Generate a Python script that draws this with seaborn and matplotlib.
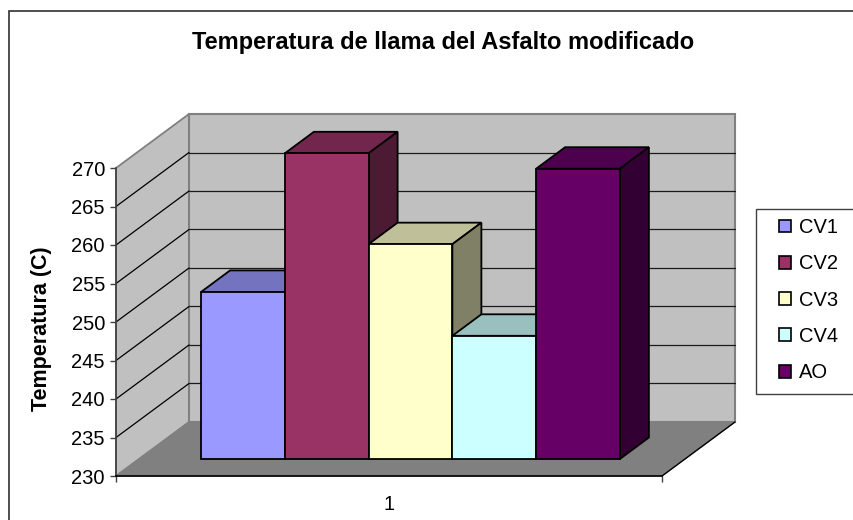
import matplotlib
matplotlib.use('Agg')
import matplotlib.pyplot as plt
from matplotlib.colors import to_rgb
from matplotlib.patches import Polygon, Rectangle
import pandas as pd
import seaborn as sns

'''
data
'''
series = ['CV1', 'CV2', 'CV3', 'CV4', 'AO']
temperatures = [251.7, 269.7, 257.9, 246.0, 267.7]
group = ['1', '1', '1', '1', '1']
bar_colors = ['#9999FF', '#993366', '#FFFFCC', '#CCFFFF', '#660066']
y_ticks = [230, 235, 240, 245, 250, 255, 260, 265, 270]

df = pd.DataFrame({'grupo': group, 'serie': series, 'temp': temperatures})

sns.set_theme(style='white')
plt.rcParams['font.family'] = ['Liberation Sans', 'DejaVu Sans']

W, H = 854, 520
fig = plt.figure(figsize=(W / 100, H / 100), dpi=100, facecolor='white')
ax = fig.add_axes([116 / W, (H - 476) / H, 546 / W, 308 / H])

'''
bars
'''
sns.barplot(data=df, x='grupo', y='temp', hue='serie', hue_order=series,
            palette=dict(zip(series, bar_colors)), saturation=1, width=0.767,
            gap=0, edgecolor='black', linewidth=1.3, ax=ax)

ymin, ymax = y_ticks[0], y_ticks[-1]
ax.set_xlim(-0.5, 0.5)
ax.set_ylim(ymin, ymax)
ax.patch.set_visible(False)

# oblique projection, the depth of the box in data units
depth_x = 73 / 546
depth_y = 54 / 308 * (ymax - ymin)
# where the bars stand on the floor and how deep they are
shift_x = 21.5 / 546
shift_y = 17 / 308 * (ymax - ymin)
bar_dx = 29 / 546
bar_dy = 21.5 / 308 * (ymax - ymin)


def shade(color, f):
    return tuple(c * f for c in to_rgb(color))


def poly(pts, face, edge, lw=1.0, z=1):
    ax.add_patch(Polygon(pts, closed=True, facecolor=face, edgecolor=edge,
                         linewidth=lw, zorder=z, clip_on=False))


'''
walls and floor
'''
x0, x1 = -0.5, 0.5
poly([(x0, ymin), (x0 + depth_x, ymin + depth_y), (x0 + depth_x, ymax + depth_y), (x0, ymax)],
     '#C0C0C0', '#808080', 1.3, 0.5)
poly([(x0 + depth_x, ymin + depth_y), (x1 + depth_x, ymin + depth_y),
      (x1 + depth_x, ymax + depth_y), (x0 + depth_x, ymax + depth_y)],
     '#C0C0C0', '#808080', 1.5, 0.5)
poly([(x0, ymin), (x0 + depth_x, ymin + depth_y), (x1 + depth_x, ymin + depth_y), (x1, ymin)],
     '#808080', '#808080', 0.8, 0.6)
ax.plot([x1, x1 + depth_x], [ymin, ymin + depth_y], color='black', lw=1, zorder=0.7, clip_on=False)

for t in y_ticks[1:-1]:
    ax.plot([x0, x0 + depth_x], [t, t + depth_y], color='black', lw=0.9, zorder=0.8, clip_on=False)
    ax.plot([x0 + depth_x, x1 + depth_x], [t + depth_y, t + depth_y], color='#1a1a1a', lw=0.9,
            zorder=0.8, clip_on=False)

'''
3d look of the bars, painted left to right
'''
bars = [p for p in ax.patches if isinstance(p, Rectangle) and p.get_width() > 0]
for i, (p, val, col) in enumerate(zip(bars, temperatures, bar_colors)):
    z = 3 + i
    p.set_x(p.get_x() + shift_x)
    p.set_y(ymin + shift_y)
    p.set_height(val - ymin)
    p.set_zorder(z + 0.5)
    p.set_clip_on(False)
    left, right = p.get_x(), p.get_x() + p.get_width()
    bottom, top = p.get_y(), p.get_y() + p.get_height()
    poly([(left, top), (left + bar_dx, top + bar_dy), (right + bar_dx, top + bar_dy), (right, top)],
         shade(col, 0.75), 'black', 1.3, z)
    poly([(right, bottom), (right + bar_dx, bottom + bar_dy), (right + bar_dx, top + bar_dy), (right, top)],
         shade(col, 0.5), 'black', 1.3, z)

'''
axes
'''
for s in ['top', 'right']:
    ax.spines[s].set_visible(False)
ax.spines['left'].set_color('#404040')
ax.spines['left'].set_linewidth(1.2)
ax.spines['left'].set_zorder(2)
ax.spines['bottom'].set_color('black')
ax.spines['bottom'].set_linewidth(1.2)
ax.spines['bottom'].set_zorder(2)

ax.set_yticks(y_ticks)
ax.tick_params(axis='y', which='major', left=True, length=4.5, width=1, color='#404040',
               labelsize=14.5, pad=3.5, labelcolor='black')
ax.set_xticks([0], labels=['1'])
ax.set_xticks([x0, x1], minor=True)
ax.tick_params(axis='x', which='major', bottom=False, labelsize=14.5, pad=8, labelcolor='black')
ax.tick_params(axis='x', which='minor', bottom=True, length=4.5, width=1, color='#404040')

ax.set_xlabel('')
ax.set_ylabel('Temperatura (C)', fontsize=15.5, fontweight='bold', color='black')
ax.yaxis.set_label_coords((52 - 116) / 546, (476 - 329) / 308)

fig.text(443 / W, 1 - 49 / H, 'Temperatura de llama del Asfalto modificado',
         ha='center', va='baseline', fontsize=17, fontweight='bold', color='black')

# chart frame, runs off the right and bottom of the picture
fig.add_artist(Rectangle((9 / W, -0.1), 1, 1.1 - 11 / H, transform=fig.transFigure,
                         fill=False, edgecolor='#303030', linewidth=1.2))

# legend box also runs off the right edge, so it is separate from the entries
fig.add_artist(Rectangle((756 / W, 1 - 394 / H), 110 / W, 185 / H, transform=fig.transFigure,
                         facecolor='white', edgecolor='#404040', linewidth=1.0, zorder=-1))

sns.move_legend(ax, loc='upper left', bbox_to_anchor=(779 / W, 1 - 218 / H),
                bbox_transform=fig.transFigure, title=None, frameon=False,
                fontsize=14.5, handlelength=0.6, handleheight=0.6, handletextpad=0.4,
                labelspacing=0.86, borderpad=0, borderaxespad=0, labelcolor='black')
leg = ax.get_legend()
leg.set_zorder(20)
for h in leg.get_patches():
    h.set_edgecolor('black')
    h.set_linewidth(1.2)

fig.savefig('out.png', dpi=100, facecolor='white')
